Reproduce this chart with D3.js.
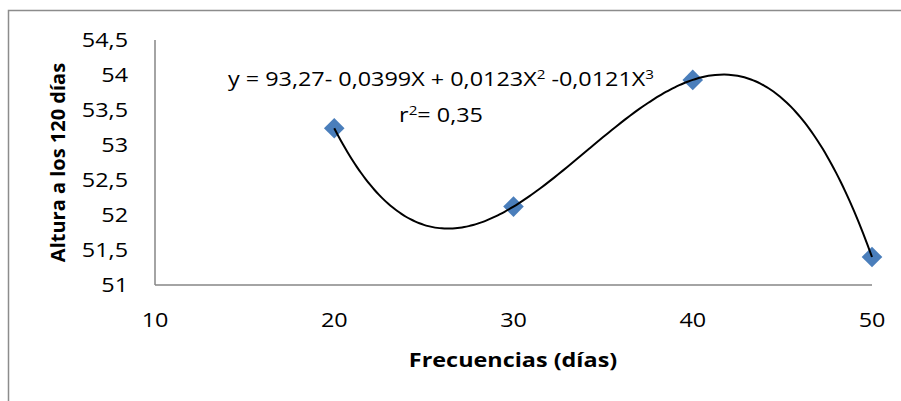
<!DOCTYPE html>
<html lang="es">
<head>
  <meta charset="UTF-8">
  <title>Altura a los 120 días</title>
  <style>
    body { margin: 0; background: #fff; }
    svg { display: block; font-family: "Open Sans", sans-serif; }
  </style>
</head>
<body>
  <div id="chart"></div>
  <script src="https://d3js.org/d3.v7.min.js"></script>
  <script>
    const width = 901
    const height = 401

    // data
    const frecuencias = [20, 30, 40, 50]
    const alturas = [53.24, 52.12, 53.93, 51.4]
    const xTicks = [10, 20, 30, 40, 50]
    const yTicks = [51, 51.5, 52, 52.5, 53, 53.5, 54, 54.5]

    const plot = { left: 155, right: 872, top: 40, bottom: 285 }
    const fontSize = 20
    // the original picture is a bit wider than tall, text looks stretched
    const sx = 1.17

    const svg = d3.select('#chart').append('svg')
      .attr('width', width)
      .attr('height', height)

    // outer chart border (runs off the right/bottom edge)
    svg.append('rect')
      .attr('x', 8.5).attr('y', 10.5)
      .attr('width', 1000).attr('height', 1000)
      .attr('fill', 'none')
      .attr('stroke', '#8c8c8c')
      .attr('stroke-width', 1.5)

    const x = d3.scaleLinear().domain([10, 50]).range([plot.left, plot.right])
    const y = d3.scaleLinear().domain([51, 54.5]).range([plot.bottom, plot.top])

    const fmt = d => String(d).replace('.', ',')

    // axes lines
    svg.append('line')
      .attr('x1', plot.left).attr('x2', plot.left)
      .attr('y1', plot.top).attr('y2', plot.bottom)
      .attr('stroke', '#868686').attr('stroke-width', 1.5)
    svg.append('line')
      .attr('x1', plot.left).attr('x2', plot.right)
      .attr('y1', plot.bottom).attr('y2', plot.bottom)
      .attr('stroke', '#868686').attr('stroke-width', 1.5)

    // tick labels
    svg.append('g').selectAll('text')
      .data(yTicks)
      .join('text')
      .attr('transform', d => `translate(128, ${y(d)}) scale(${sx}, 1)`)
      .attr('dy', '0.36em')
      .attr('text-anchor', 'end')
      .attr('font-size', fontSize)
      .attr('fill', '#000')
      .text(fmt)

    svg.append('g').selectAll('text')
      .data(xTicks)
      .join('text')
      .attr('transform', d => `translate(${x(d)}, 320) scale(${sx}, 1)`)
      .attr('dy', '0.36em')
      .attr('text-anchor', 'middle')
      .attr('font-size', fontSize)
      .attr('fill', '#000')
      .text(d => d)

    // axis titles
    svg.append('text')
      .attr('transform', `translate(58, ${(plot.top + plot.bottom) / 2}) rotate(-90)`)
      .attr('dy', '0.36em')
      .attr('text-anchor', 'middle')
      .attr('font-size', fontSize)
      .attr('font-weight', 'bold')
      .text('Altura a los 120 días')

    svg.append('text')
      .attr('transform', `translate(513, 360) scale(${sx}, 1)`)
      .attr('dy', '0.36em')
      .attr('text-anchor', 'middle')
      .attr('font-size', fontSize)
      .attr('font-weight', 'bold')
      .text('Frecuencias (días)')

    // markers (drawn under the trend line)
    const diamond = d3.symbol().type(d3.symbolDiamond2).size(270)
    svg.append('g').selectAll('path')
      .data(frecuencias)
      .join('path')
      .attr('transform', (d, i) => `translate(${x(d)}, ${y(alturas[i])})`)
      .attr('d', diamond)
      .attr('fill', '#4a7ebb')

    // trend line: cubic polynomial through the four points (Lagrange form)
    function cubic(t) {
      let s = 0
      for (let i = 0; i < frecuencias.length; i++) {
        let term = alturas[i]
        for (let j = 0; j < frecuencias.length; j++) {
          if (j !== i) term *= (t - frecuencias[j]) / (frecuencias[i] - frecuencias[j])
        }
        s += term
      }
      return s
    }
    const xs = d3.range(frecuencias[0], frecuencias[frecuencias.length - 1] + 0.001, 0.25)
    const line = d3.line()
      .x(d => x(d))
      .y(d => y(cubic(d)))
      .curve(d3.curveMonotoneX)

    svg.append('path')
      .datum(xs)
      .attr('d', line)
      .attr('fill', 'none')
      .attr('stroke', '#000')
      .attr('stroke-width', 2)

    // equation labels
    const eq = svg.append('text')
      .attr('transform', `translate(441, 86) scale(${sx}, 1)`)
      .attr('text-anchor', 'middle')
      .attr('font-size', fontSize)
    eq.append('tspan').text('y = 93,27- 0,0399X + 0,0123X')
    eq.append('tspan').attr('font-size', 13).attr('dy', -7).text('2')
    eq.append('tspan').attr('dy', 7).text(' -0,0121X')
    eq.append('tspan').attr('font-size', 13).attr('dy', -7).text('3')

    const r2 = svg.append('text')
      .attr('transform', `translate(441, 122) scale(${sx}, 1)`)
      .attr('text-anchor', 'middle')
      .attr('font-size', fontSize)
    r2.append('tspan').text('r')
    r2.append('tspan').attr('font-size', 13).attr('dy', -7).text('2')
    r2.append('tspan').attr('dy', 7).text('= 0,35')
  </script>
</body>
</html>
